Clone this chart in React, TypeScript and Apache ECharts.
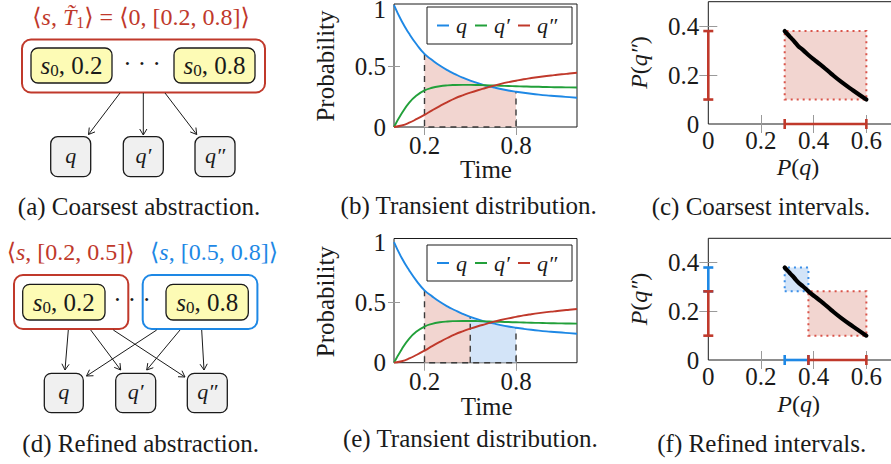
import React, { useEffect, useRef } from "react";
import * as echarts from "echarts";

// ---------- data ----------
const TIME = [0, 0.05, 0.1, 0.15, 0.2, 0.25, 0.3, 0.35, 0.4, 0.45, 0.5, 0.55, 0.6, 0.65, 0.7, 0.75, 0.8, 0.85, 0.9, 0.95, 1.0, 1.05, 1.1, 1.15, 1.2];
const P_Q = [1.0, 0.87, 0.765, 0.675, 0.6, 0.55, 0.505, 0.467, 0.435, 0.405, 0.38, 0.36, 0.34, 0.326, 0.312, 0.3, 0.29, 0.281, 0.273, 0.266, 0.26, 0.255, 0.25, 0.245, 0.24];
const P_Q1 = [0, 0.11, 0.2, 0.26, 0.3, 0.322, 0.335, 0.342, 0.345, 0.346, 0.346, 0.345, 0.343, 0.341, 0.339, 0.337, 0.335, 0.333, 0.331, 0.33, 0.328, 0.327, 0.326, 0.325, 0.324];
const P_Q2 = [0, 0.012, 0.035, 0.066, 0.1, 0.137, 0.172, 0.205, 0.235, 0.26, 0.282, 0.302, 0.32, 0.338, 0.354, 0.368, 0.38, 0.392, 0.402, 0.411, 0.419, 0.426, 0.433, 0.439, 0.445];
const SERIES_NAMES = ["q", "q\u2032", "q\u2033"];
const TIME_WINDOW = [0.2, 0.8];
const TIME_SPLIT = 0.5;
const TIME_LABELS = [0.2, 0.8];
const PROB_LABELS = [0, 0.5, 1];
const PQ_LABELS = [0, 0.2, 0.4, 0.6];
const PQ2_LABELS = [0, 0.2, 0.4];

// ---------- styles ----------
const FONT = '"Liberation Serif", "DejaVu Serif", serif';
const RED = "#c0392b";
const BLUE = "#1e88e5";
const GREEN = "#22a03a";
const RED_FILL = "#f2d5d0";
const BLUE_FILL = "#d3e4f8";
const RED_DOT = "#d9544a";
const BLUE_DOT = "#3b8fe8";
const YELLOW = "#fdfbb5";
const GREY = "#f0f0f0";
const INK = "#1a1a1a";
const FS = 25; // plot / diagram text size
const CAP = 25; // caption size

const EPS = 1e-9;
const at = (arr: number[], t: number) => arr[TIME.findIndex((v) => Math.abs(v - t) < EPS)];
const seg = (arr: number[], t0: number, t1: number) =>
  TIME.map((t, i) => [t, arr[i]]).filter(([t]) => t >= t0 - EPS && t <= t1 + EPS);
const curve = (t0: number, t1: number) =>
  TIME.map((t, i) => [P_Q[i], P_Q2[i], t]).filter((d) => d[2] >= t0 - EPS && d[2] <= t1 + EPS).map((d) => [d[0], d[1]]);

const tickStyle = (vals: number[], len: number) => ({
  show: true,
  inside: true,
  length: len,
  customValues: vals,
  lineStyle: { color: "#9a9a9a", width: 1 },
});
const labelStyle = (vals: number[], margin: number, topValue?: number) => ({
  show: true,
  customValues: vals,
  margin,
  fontFamily: FONT,
  fontSize: FS,
  lineHeight: 18,
  color: INK,
  formatter: (v: number) => {
    const s = String(+v.toFixed(2));
    return topValue !== undefined && Math.abs(v - topValue) < EPS ? "{t|" + s + "}" : s;
  },
  rich: { t: { fontFamily: FONT, fontSize: FS, color: INK, lineHeight: 18, padding: [8, 0, 0, 0] } },
});

function axisPair(kind: "x" | "y", grid: number, min: number, max: number, ticks: number[], labels: number[], len: number, margin: number, topValue?: number) {
  const main = {
    type: "value",
    gridIndex: grid,
    min,
    max,
    position: kind === "x" ? "bottom" : "left",
    axisLine: { show: false },
    splitLine: { show: false },
    axisTick: tickStyle(ticks, len),
    axisLabel: labelStyle(labels, margin, topValue),
  };
  const mirror = {
    type: "value",
    gridIndex: grid,
    min,
    max,
    position: kind === "x" ? "top" : "right",
    axisLine: { show: false },
    splitLine: { show: false },
    axisTick: tickStyle(ticks, len),
    axisLabel: { show: false },
  };
  return [main, mirror];
}

function txt(x: number, y: number, text: string, size: number, color = INK, extra: any = {}) {
  return {
    type: "text",
    x,
    y,
    z: 50,
    rotation: extra.rotation || 0,
    style: {
      text,
      x: 0,
      y: 0,
      fontFamily: FONT,
      fontSize: size,
      lineHeight: size,
      fill: color,
      align: extra.align || "center",
      verticalAlign: "middle",
      fontStyle: extra.italic ? "italic" : "normal",
      rich: extra.rich,
    },
  };
}

function mathRich(color: string, size: number) {
  return {
    n: { fontFamily: FONT, fontSize: size, fill: color, lineHeight: size + 2 },
    i: { fontFamily: FONT, fontSize: size, fill: color, fontStyle: "italic", lineHeight: size + 2 },
    sub: { fontFamily: FONT, fontSize: Math.round(size * 0.68), fill: color, verticalAlign: "bottom", lineHeight: Math.round(size * 0.6) },
  };
}
function mtxt(x: number, y: number, text: string, size: number, color = INK, rotation = 0) {
  return txt(x, y, text, size, color, { rich: mathRich(color, size), rotation });
}

function box(x: number, y: number, w: number, h: number, fill: string, stroke: string, lw: number, r = 7) {
  return { type: "rect", z: 40, shape: { x, y, width: w, height: h, r }, style: { fill, stroke, lineWidth: lw } };
}

function arrow(x1: number, y1: number, x2: number, y2: number) {
  const dx = x2 - x1, dy = y2 - y1, L = Math.hypot(dx, dy);
  const ux = dx / L, uy = dy / L, nx = -uy, ny = ux;
  const hl = 6, hw = 3.6;
  return [
    { type: "line", z: 41, shape: { x1, y1, x2, y2 }, style: { stroke: INK, lineWidth: 1 } },
    {
      type: "polyline",
      z: 41,
      shape: { points: [[x2 - hl * ux + hw * nx, y2 - hl * uy + hw * ny], [x2, y2], [x2 - hl * ux - hw * nx, y2 - hl * uy - hw * ny]] },
      style: { stroke: INK, lineWidth: 1, fill: null },
    },
  ];
}

function legend(x: number, y: number, h: number) {
  const cy = y + h / 2;
  const cols = [BLUE, GREEN, RED];
  const dashX = [437, 475, 518];
  const textX = [456, 494, 537];
  const out: any[] = [{ type: "rect", z: 60, shape: { x, y, width: 145, height: h }, style: { fill: "#fff", stroke: INK, lineWidth: 1 } }];
  cols.forEach((c, k) => {
    out.push({ type: "line", z: 61, shape: { x1: dashX[k], y1: cy, x2: dashX[k] + 12, y2: cy }, style: { stroke: c, lineWidth: 2 } });
    out.push({ ...txt(textX[k], cy, SERIES_NAMES[k], 22, INK, { italic: true, align: "left" }), z: 61 });
  });
  return out;
}

function intervalSeries(grid: number, color: string, data: number[][]) {
  return {
    type: "custom",
    xAxisIndex: grid * 2,
    yAxisIndex: grid * 2,
    clip: false,
    z: 20,
    silent: true,
    data,
    renderItem: (_p: any, api: any) => {
      const lo = api.value(0), hi = api.value(1), orient = api.value(2);
      const a = orient === 0 ? api.coord([lo, 0]) : api.coord([0, lo]);
      const b = orient === 0 ? api.coord([hi, 0]) : api.coord([0, hi]);
      const st = { stroke: color, lineWidth: 2.6 };
      const cap = (p: number[]) =>
        orient === 0
          ? { type: "line", shape: { x1: p[0], y1: p[1] - 5, x2: p[0], y2: p[1] + 5 }, style: st }
          : { type: "line", shape: { x1: p[0] - 5, y1: p[1], x2: p[0] + 5, y2: p[1] }, style: st };
      return {
        type: "group",
        children: [{ type: "line", shape: { x1: a[0], y1: a[1], x2: b[0], y2: b[1] }, style: st }, cap(a), cap(b)],
      };
    },
  };
}

function rectSeries(grid: number, areas: { x: number[]; y: number[]; fill: string; border: string }[]) {
  return {
    type: "line",
    xAxisIndex: grid * 2,
    yAxisIndex: grid * 2,
    data: [[areas[0].x[0], areas[0].y[0]]],
    symbol: "none",
    lineStyle: { width: 0 },
    silent: true,
    z: 5,
    markArea: {
      silent: true,
      data: areas.map((a) => [
        { xAxis: a.x[0], yAxis: a.y[0], itemStyle: { color: a.fill, borderColor: a.border, borderWidth: 2, borderType: [2, 4] } },
        { xAxis: a.x[1], yAxis: a.y[1] },
      ]),
    },
  };
}

function timeSeries(grid: number, regions: { t: number[]; fill: string }[], cuts: number[]) {
  const xi = grid * 2, yi = grid * 2;
  const out: any[] = [];
  regions.forEach((r) => {
    out.push({
      type: "line",
      xAxisIndex: xi,
      yAxisIndex: yi,
      data: seg(P_Q, r.t[0], r.t[1]),
      symbol: "none",
      smooth: true,
      lineStyle: { width: 0 },
      areaStyle: { color: r.fill, opacity: 1 },
      silent: true,
      z: 2,
    });
  });
  const t0 = TIME_WINDOW[0], t1 = TIME_WINDOW[1];
  out.push({
    type: "line",
    xAxisIndex: xi,
    yAxisIndex: yi,
    data: [[t0, at(P_Q, t0)], [t0, 0], [t1, 0], [t1, at(P_Q, t1)]],
    symbol: "none",
    clip: false,
    lineStyle: { color: "#3a3a3a", width: 1.4, type: [6, 5] },
    silent: true,
    z: 3,
  });
  cuts.forEach((c) => {
    out.push({
      type: "line",
      xAxisIndex: xi,
      yAxisIndex: yi,
      data: [[c, 0], [c, at(P_Q, c)]],
      symbol: "none",
      lineStyle: { color: "#3a3a3a", width: 1.4, type: [6, 5] },
      silent: true,
      z: 3,
    });
  });
  [P_Q, P_Q1, P_Q2].forEach((arr, k) => {
    out.push({
      type: "line",
      name: SERIES_NAMES[k],
      xAxisIndex: xi,
      yAxisIndex: yi,
      data: TIME.map((t, i) => [t, arr[i]]),
      symbol: "none",
      smooth: true,
      color: [BLUE, GREEN, RED][k],
      lineStyle: { color: [BLUE, GREEN, RED][k], width: 1.9 },
      z: 4,
    });
  });
  return out;
}

function curveSeries(grid: number) {
  return {
    type: "line",
    xAxisIndex: grid * 2,
    yAxisIndex: grid * 2,
    data: curve(TIME_WINDOW[0], TIME_WINDOW[1]),
    symbol: "none",
    smooth: true,
    clip: false,
    lineStyle: { color: "#000", width: 4.2, cap: "round" },
    z: 10,
  };
}

export default function App() {
  const ref = useRef<HTMLDivElement>(null);
  useEffect(() => {
    if (!ref.current) return;
    const chart = echarts.init(ref.current, undefined, { renderer: "svg" });

    const [w0, w1] = TIME_WINDOW;
    const qLo = at(P_Q, w1), qHi = at(P_Q, w0), qMid = at(P_Q, TIME_SPLIT);
    const rLo = at(P_Q2, w0), rHi = at(P_Q2, w1), rMid = at(P_Q2, TIME_SPLIT);

    const gridBase = { show: true, borderColor: INK, borderWidth: 1, backgroundColor: "transparent", outerBoundsMode: "none", containLabel: false };
    const grids = [
      { ...gridBase, left: 394, top: 4, width: 183, height: 123 },
      { ...gridBase, left: 394, top: 238.5, width: 183, height: 124.2 },
      { ...gridBase, left: 708.3, top: 1.7, width: 184.4, height: 122.3 },
      { ...gridBase, left: 708.3, top: 238.3, width: 184.4, height: 121.7 },
    ];

    const xAxes = [
      ...axisPair("x", 0, 0, 1.2, TIME_LABELS, TIME_LABELS, 8, 9),
      ...axisPair("x", 1, 0, 1.2, TIME_LABELS, TIME_LABELS, 8, 10),
      ...axisPair("x", 2, 0, 0.7, [0.2, 0.4, 0.6], PQ_LABELS, 9, 7),
      ...axisPair("x", 3, 0, 0.7, [0.2, 0.4, 0.6], PQ_LABELS, 9, 7),
    ];
    const yAxes = [
      ...axisPair("y", 0, 0, 1.01, [0.5], PROB_LABELS, 6, 8, 1),
      ...axisPair("y", 1, 0, 1.03, [0.5], PROB_LABELS, 6, 8),
      ...axisPair("y", 2, 0, 0.5, [0.2, 0.4], PQ2_LABELS, 9, 9),
      ...axisPair("y", 3, 0, 0.5, [0.2, 0.4], PQ2_LABELS, 9, 9),
    ];

    const series: any[] = [
      ...timeSeries(0, [{ t: TIME_WINDOW, fill: RED_FILL }], []),
      ...timeSeries(1, [{ t: [w0, TIME_SPLIT], fill: RED_FILL }, { t: [TIME_SPLIT, w1], fill: BLUE_FILL }], [TIME_SPLIT]),
      rectSeries(2, [{ x: [qLo, qHi], y: [rLo, rHi], fill: RED_FILL, border: RED_DOT }]),
      curveSeries(2),
      intervalSeries(2, RED, [[qLo, qHi, 0], [rLo, rHi, 1]]),
      rectSeries(3, [
        { x: [qMid, qHi], y: [rLo, rMid], fill: RED_FILL, border: RED_DOT },
        { x: [qLo, qMid], y: [rMid, rHi], fill: BLUE_FILL, border: BLUE_DOT },
      ]),
      curveSeries(3),
      intervalSeries(3, BLUE, [[qLo, qMid, 0], [rMid, rHi, 1]]),
      intervalSeries(3, RED, [[qMid, qHi, 0], [rLo, rMid, 1]]),
    ];

    const g: any[] = [];
    // ---- (a) ----
    g.push(mtxt(141, 17, "{n|\u27E8}{i|s}{n|, }{i|T\u0303}{sub|1}{n|\u27E9 = \u27E80, [0.2, 0.8]\u27E9}", 24, RED));
    g.push(box(22, 39.5, 243, 53, "#fff", RED, 2, 9));
    g.push(box(31, 48, 81, 35, YELLOW, INK, 1.3));
    g.push(box(174, 48, 81, 35, YELLOW, INK, 1.3));
    g.push(mtxt(71.5, 65.5, "{i|s}{sub|0}{n|, 0.2}", FS));
    g.push(mtxt(214.5, 65.5, "{i|s}{sub|0}{n|, 0.8}", FS));
    g.push(txt(142, 63, "\u00B7 \u00B7 \u00B7", FS));
    g.push(...arrow(120, 93, 88.5, 134.5), ...arrow(143.3, 93, 143.3, 135), ...arrow(165, 93, 196.7, 134.5));
    g.push(box(50.7, 136.7, 40, 40, GREY, INK, 1.3), box(123.3, 136.7, 40, 40, GREY, INK, 1.3), box(195, 136.7, 40, 40, GREY, INK, 1.3));
    g.push(txt(70.7, 155, SERIES_NAMES[0], 22, INK, { italic: true }));
    g.push(txt(143.3, 155, SERIES_NAMES[1], 22, INK, { italic: true }));
    g.push(txt(215, 155, SERIES_NAMES[2], 22, INK, { italic: true }));
    g.push(txt(139, 206.7, "(a) Coarsest abstraction.", CAP));

    // ---- (d) ----
    g.push(mtxt(70.7, 251.7, "{n|\u27E8}{i|s}{n|, [0.2, 0.5]\u27E9}", 24, RED));
    g.push(mtxt(214, 251.7, "{n|\u27E8}{i|s}{n|, [0.5, 0.8]\u27E9}", 24, BLUE));
    g.push(box(14, 275, 114.3, 54, "#fff", RED, 2, 9));
    g.push(box(142.7, 275, 114.7, 54, "#fff", BLUE, 2, 9));
    g.push(box(22.7, 284.3, 82.3, 35.7, YELLOW, INK, 1.3));
    g.push(box(166, 284.3, 82.3, 35.7, YELLOW, INK, 1.3));
    g.push(mtxt(63.8, 302, "{i|s}{sub|0}{n|, 0.2}", FS));
    g.push(mtxt(207.2, 302, "{i|s}{sub|0}{n|, 0.8}", FS));
    g.push(txt(132, 299.5, "\u00B7 \u00B7 \u00B7", FS));
    g.push(
      ...arrow(68.3, 330, 65, 370),
      ...arrow(90.7, 330, 120.7, 370),
      ...arrow(113.3, 330, 185, 377),
      ...arrow(156.7, 330, 86.5, 376),
      ...arrow(180, 330, 146.7, 370),
      ...arrow(201.7, 330, 204, 370)
    );
    g.push(box(44.3, 373.3, 39, 39.4, GREY, INK, 1.3), box(115.7, 373.3, 40, 39.4, GREY, INK, 1.3), box(187.3, 373.3, 40, 39.4, GREY, INK, 1.3));
    g.push(txt(63.8, 391.5, SERIES_NAMES[0], 22, INK, { italic: true }));
    g.push(txt(135.7, 391.5, SERIES_NAMES[1], 22, INK, { italic: true }));
    g.push(txt(207.3, 391.5, SERIES_NAMES[2], 22, INK, { italic: true }));
    g.push(txt(140.7, 443.3, "(d) Refined abstraction.", CAP));

    // ---- (b) / (e) ----
    g.push(txt(325, 66, "Probability", FS, INK, { rotation: Math.PI / 2 }));
    g.push(txt(486, 169, "Time", FS));
    g.push(txt(468.7, 205, "(b) Transient distribution.", CAP));
    g.push(...legend(427, 7, 37));
    g.push(txt(325, 301.7, "Probability", FS, INK, { rotation: Math.PI / 2 }));
    g.push(txt(486.7, 406, "Time", FS));
    g.push(txt(470.3, 438.3, "(e) Transient distribution.", CAP));
    g.push(...legend(427, 245, 36));

    // ---- (c) / (f) ----
    g.push(mtxt(798, 167, "{i|P}{n|(}{i|q}{n|)}", 24));
    g.push(mtxt(639, 62.5, "{i|P}{n|(}{i|q\u2033}{n|)}", 24, INK, Math.PI / 2));
    g.push(txt(761, 206.7, "(c) Coarsest intervals.", CAP));
    g.push(mtxt(798.7, 404, "{i|P}{n|(}{i|q}{n|)}", 24));
    g.push(mtxt(639, 299, "{i|P}{n|(}{i|q\u2033}{n|)}", 24, INK, Math.PI / 2));
    g.push(txt(761.7, 443.3, "(f) Refined intervals.", CAP));

    chart.setOption({
      animation: false,
      backgroundColor: "#fff",
      textStyle: { fontFamily: FONT },
      grid: grids,
      xAxis: xAxes,
      yAxis: yAxes,
      series,
      graphic: g,
    });
    return () => chart.dispose();
  }, []);
  return <div ref={ref} style={{ position: "absolute", left: 0, top: 0, width: 891, height: 464 }} />;
}
